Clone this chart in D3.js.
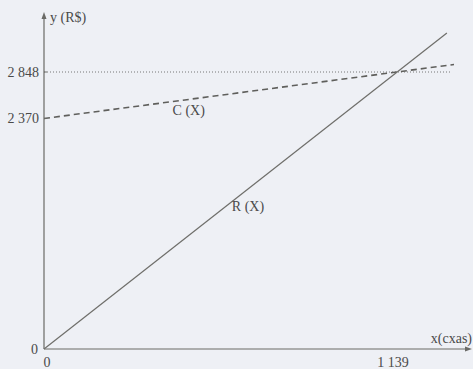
<!DOCTYPE html>
<html>
<head>
<meta charset="utf-8">
<script src="https://cdn.jsdelivr.net/npm/d3@7"></script>
<style>
  html, body { margin: 0; padding: 0; background: #eef0f5; }
  svg { display: block; }
  text { font-family: "Liberation Serif", "DejaVu Serif", serif; fill: #4a4a4a; }
</style>
</head>
<body>
<svg id="chart" width="473" height="369"></svg>
<script>
// Data
const yTickValues = [2370, 2848];
const yTickLabels = ["2 370", "2 848"];
const xTickValues = [1139];
const xTickLabels = ["1 139"];
const breakEvenX = 1139;
const breakEvenY = 2848;
const costFixed = 2370;          // C(x) = 2370 + 0.42x
const costVariable = 0.42;
const revenuePrice = 2.5;        // R(x) = 2.5x (approx 2848/1139)
const revenueDomain = [0, 1300];
const costDomain = [0, 1323];
const dottedDomain = [0, 1316];

const svg = d3.select("#chart");
const x = d3.scaleLinear().domain([0, 1381]).range([44, 472]);
const y = d3.scaleLinear().domain([0, 3465]).range([349, 12]);

const ink = "#6a6a66";

// axes
svg.append("line").attr("x1", x(0)).attr("x2", x(1381) - 4).attr("y1", y(0)).attr("y2", y(0))
  .attr("stroke", ink).attr("stroke-width", 1.2);
svg.append("path").attr("d", `M${x(1381)},${y(0)} l-7,-2.5 l0,5 z`).attr("fill", ink);
svg.append("line").attr("x1", x(0)).attr("x2", x(0)).attr("y1", y(0)).attr("y2", y(3465) + 4)
  .attr("stroke", ink).attr("stroke-width", 1.2);
svg.append("path").attr("d", `M${x(0)},${y(3465)} l-2.5,7 l5,0 z`).attr("fill", ink);

// dotted break-even level
svg.append("line")
  .attr("x1", x(dottedDomain[0])).attr("x2", x(dottedDomain[1]))
  .attr("y1", y(breakEvenY)).attr("y2", y(breakEvenY))
  .attr("stroke", "#777").attr("stroke-width", 1).attr("stroke-dasharray", "1,2");

// cost line (dashed)
const costLine = d3.line().x(d => x(d)).y(d => y(costFixed + costVariable * d));
svg.append("path").datum(costDomain).attr("d", costLine)
  .attr("fill", "none").attr("stroke", "#5f5f5c").attr("stroke-width", 1.6)
  .attr("stroke-dasharray", "6,4");

// revenue line
const revLine = d3.line().x(d => x(d)).y(d => y(revenuePrice * d));
svg.append("path").datum(revenueDomain).attr("d", revLine)
  .attr("fill", "none").attr("stroke", "#6e6e6a").attr("stroke-width", 1.2);

// y ticks
yTickValues.forEach((v, i) => {
  svg.append("line").attr("x1", x(0)).attr("x2", x(0) + 3).attr("y1", y(v)).attr("y2", y(v))
    .attr("stroke", ink).attr("stroke-width", 1);
  svg.append("text").attr("x", x(0) - 5).attr("y", y(v) + 5)
    .attr("text-anchor", "end").attr("font-size", 14).text(yTickLabels[i]);
});
// x ticks
xTickValues.forEach((v, i) => {
  svg.append("text").attr("x", x(v) - 4).attr("y", 367)
    .attr("text-anchor", "middle").attr("font-size", 14).text(xTickLabels[i]);
});

// origin labels
svg.append("text").attr("x", 38).attr("y", 354).attr("text-anchor", "end").attr("font-size", 14).text("0");
svg.append("text").attr("x", 47).attr("y", 367).attr("text-anchor", "middle").attr("font-size", 14).text("0");

// axis titles
svg.append("text").attr("x", 50).attr("y", 22).attr("font-size", 14).text("y (R$)");
svg.append("text").attr("x", 472).attr("y", 343).attr("text-anchor", "end").attr("font-size", 14).text("x(cxas)");

// series labels
svg.append("text").attr("x", x(415)).attr("y", 115).attr("font-size", 14).text("C (X)");
svg.append("text").attr("x", x(606)).attr("y", 211).attr("font-size", 14).text("R (X)");
</script>
</body>
</html>
